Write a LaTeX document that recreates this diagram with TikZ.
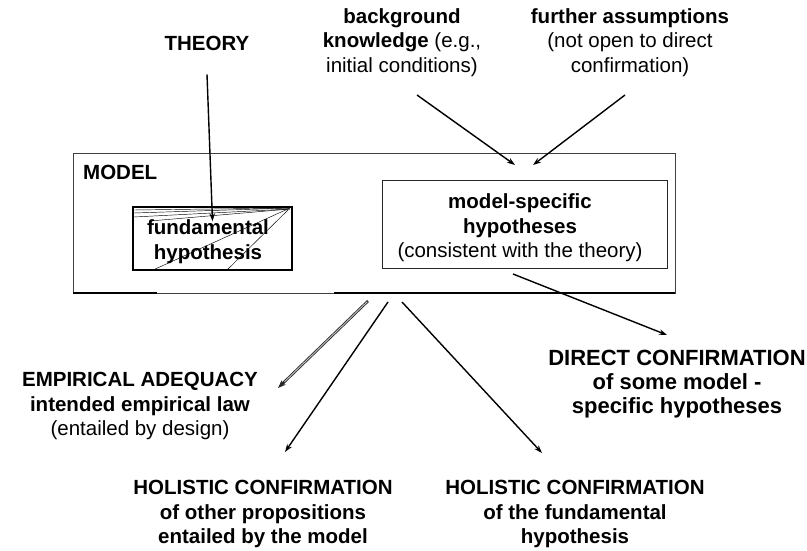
\documentclass[tikz,border=0pt]{standalone}
\usepackage{fontspec}
\setmainfont{Liberation Sans}
\usetikzlibrary{arrows.meta}
\newcommand\dfont{\fontsize{20.5}{24.5}\selectfont}
\newcommand\wfont{\fontsize{22}{24}\selectfont}
\begin{document}
\begin{tikzpicture}[x=1pt,y=-1pt,
  txt/.style={inner sep=0pt, align=center, font=\dfont},
  btxt/.style={txt, font=\dfont\bfseries},
  arr/.style={line width=1.4pt, -{Stealth[length=8pt,width=5.5pt]}},
  boxline/.style={draw, inner sep=0pt}]
\useasboundingbox (0,0) rectangle (807,551);
% top texts
\node[btxt] (theory) at (207,43) {THEORY};
\node[txt] (bg) at (402,42.5) {\textbf{background}\\\textbf{knowledge} (e.g.,\\initial conditions)};
\node[txt] (fa) at (630,42.5) {\textbf{further assumptions}\\(not open to direct\\confirmation)};
% model box
\node[boxline, draw=black!75, line width=0.8pt, minimum width=602pt, minimum height=140pt] (model) at (374,223) {};
\draw[line width=1.4pt] (73,293) -- (157,293);
\draw[line width=1.4pt] (334,293) -- (675,293);
\node[btxt, anchor=west] (modellbl) at (83,172) {MODEL};
% fundamental box
\node[boxline, line width=1.4pt, minimum width=159pt, minimum height=63pt] (fund) at (212.5,238.5) {};
\begin{scope}[line width=0.45pt]
  \draw (290,208) -- (134,210);
  \draw (290,208) -- (134,213);
  \draw (290,209) -- (134,217);
  \draw (290,209) -- (150,221);
  \draw (290,208) -- (153,270);
  \draw (288,210) -- (227,270);
\end{scope}
\node[btxt] (fundtxt) at (208,241.5) {fundamental\\hypothesis};
% model-specific box
\node[boxline, draw=black!85, line width=1pt, minimum width=285pt, minimum height=88pt] (ms) at (524.5,224) {};
\node[txt] (mstxt) at (520,228) {\textbf{model-specific}\\\textbf{hypotheses}\\(consistent with the theory)};
% bottom texts
\node[txt] (emp) at (140,406) {\textbf{EMPIRICAL ADEQUACY}\\\textbf{intended empirical law}\\(entailed by design)};
\node[btxt] (hol1) at (263,514) {HOLISTIC CONFIRMATION\\of other propositions\\entailed by the model};
\node[btxt] (hol2) at (575,514) {HOLISTIC CONFIRMATION\\of the fundamental\\hypothesis};
\node[txt, font=\wfont\bfseries] (dir) at (677,384) {DIRECT CONFIRMATION\\of some model -\\specific hypotheses};
% connector end points
\coordinate (bgS) at (417,95);
\coordinate (faS) at (625,95);
\coordinate (msN1) at (515,165);
\coordinate (msN2) at (533,165);
\coordinate (msS) at (513,274);
\coordinate (dirN) at (667,335);
\coordinate (m1) at (368,301);
\coordinate (empN) at (278,388);
\coordinate (m2) at (388,302);
\coordinate (hol1N) at (285,452);
\coordinate (m3) at (402,302);
\coordinate (hol2N) at (542,453);
% connectors
\draw[arr] (theory.south) ++(0,24) -- ([yshift=-15pt]fund.north);
\draw[arr] (bgS) -- (msN1);
\draw[arr] (faS) -- (msN2);
\draw[arr] (msS) -- (dirN);
\draw[line width=2.6pt, black!85, -{Stealth[length=8pt,width=6pt]}] (m1) -- (empN);
\draw[line width=0.9pt, gray!45, shorten >=9pt, shorten <=1pt] (m1) -- (empN);
\draw[arr] (m2) -- (hol1N);
\draw[arr] (m3) -- (hol2N);
\end{tikzpicture}
\end{document}
